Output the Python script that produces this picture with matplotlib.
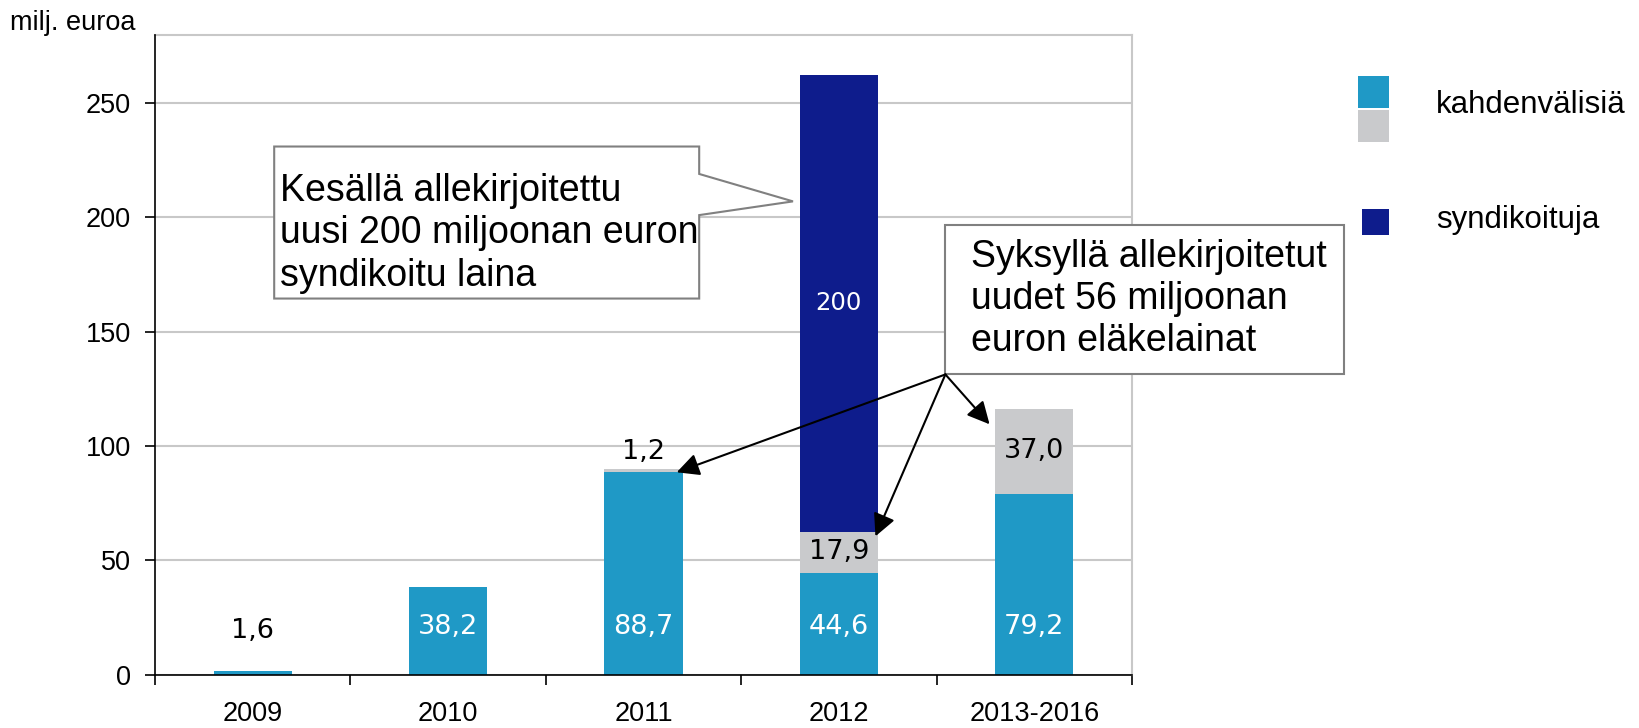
import matplotlib
matplotlib.use("Agg")
import matplotlib.pyplot as plt
from matplotlib.patches import Polygon, Rectangle
import numpy as np

plt.rcParams['font.family'] = ['Liberation Sans', 'DejaVu Sans']

# data (milj. euroa)
categories = ['2009', '2010', '2011', '2012', '2013-2016']
bilateral = [1.6, 38.2, 88.7, 44.6, 79.2]      # kahdenvälisiä
pension = [0.0, 0.0, 1.2, 17.9, 37.0]          # kahdenvälisiä, eläkelainat (harmaa)
syndicated = [0.0, 0.0, 0.0, 200.0, 0.0]       # syndikoituja
yticks = [0, 50, 100, 150, 200, 250]

c_blue = '#1f99c6'
c_grey = '#c9cacc'
c_navy = '#0e1c8c'
c_grid = '#c8c8c8'

def fmt(v):
    return str(int(v)) if v >= 100 else f'{v:.1f}'.replace('.', ',')

fig = plt.figure(figsize=(16.4, 7.28), dpi=100)
ax = fig.add_axes([155/1640, 1-674.6/728, (1132-155)/1640, (674.6-34.5)/728])

x = np.arange(len(categories))
w = 0.4
b1 = np.array(bilateral)
b2 = np.array(pension)
b3 = np.array(syndicated)
ax.bar(x, b1, w, color=c_blue, lw=0, zorder=3)
ax.bar(x, b2, w, bottom=b1, color=c_grey, lw=0, zorder=3)
ax.bar(x, b3, w, bottom=b1 + b2, color=c_navy, lw=0, zorder=3)

# value labels
lab_font = dict(family='DejaVu Sans', fontsize=19.5)
for i, v in enumerate(bilateral):
    if v < 10:
        ax.text(x[i], 19, fmt(v), ha='center', va='center', color='black', **lab_font)
    else:
        ax.text(x[i], 21, fmt(v), ha='center', va='center', color='white', **lab_font)
for i, v in enumerate(pension):
    if v == 0:
        continue
    if v < 5:
        ax.text(x[i], b1[i] + v + 7.5, fmt(v), ha='center', va='center', color='black', **lab_font)
    else:
        ax.text(x[i], b1[i] + v / 2, fmt(v), ha='center', va='center', color='black', **lab_font)
for i, v in enumerate(syndicated):
    if v > 0:
        ax.text(x[i], b1[i] + b2[i] + v / 2, fmt(v), ha='center', va='center',
                color='white', family='DejaVu Sans', fontsize=17.5)

ax.set_xlim(-0.5, len(categories) - 0.5)
ax.set_ylim(0, 280)
ax.set_yticks(yticks)
ax.set_yticklabels([str(t) for t in yticks], fontsize=19.5)
ax.set_xticks(x)
ax.set_xticklabels(categories, fontsize=19.5)
ax.set_xticks(np.arange(-0.5, len(categories)), minor=True)
ax.tick_params(axis='x', which='major', length=0, pad=19)
ax.tick_params(axis='x', which='minor', length=7, width=1.2, direction='out')
ax.tick_params(axis='y', length=7.2, width=1.2, pad=10, direction='out')
ax.grid(axis='y', color=c_grid, lw=1.5, zorder=0)
ax.set_axisbelow(True)
for s in ['left', 'bottom']:
    ax.spines[s].set_color('black')
    ax.spines[s].set_linewidth(1.2)
    ax.spines[s].set_zorder(4)
for s in ['top', 'right']:
    ax.spines[s].set_color(c_grid)
    ax.spines[s].set_linewidth(1.5)

# callout 1 (syndikoitu laina)
call1 = [(0.11, 231), (2.285, 231), (2.285, 219), (2.765, 207), (2.285, 201),
         (2.285, 164.5), (0.11, 164.5)]
ax.add_patch(Polygon(call1, closed=True, fc='white', ec='#808080', lw=1.5,
                     clip_on=False, zorder=6))
ax.text(0.14, 193, 'Kesällä allekirjoitettu\nuusi 200 miljoonan euron\nsyndikoitu laina',
        ha='left', va='center', fontsize=27, linespacing=1.22, zorder=7)

# callout 2 (eläkelainat)
x0, y0 = 3.545, 131.3
ax.add_patch(Rectangle((x0, y0), 2.04, 65.2, fc='white', ec='#808080', lw=1.5,
                       clip_on=False, zorder=6))
ax.text(3.676, 164.4, 'Syksyllä allekirjoitetut\nuudet 56 miljoonan\neuron eläkelainat',
        ha='left', va='center', fontsize=27, linespacing=1.22, zorder=7)
for tip in [(2.17, 88.5), (3.187, 60.5), (3.771, 109.5)]:
    ax.annotate('', xy=tip, xytext=(x0, y0),
                arrowprops=dict(arrowstyle='-|>', color='black', lw=1.5,
                                mutation_scale=34, shrinkA=0, shrinkB=0),
                zorder=8, annotation_clip=False)

# legend drawn by hand
def fig_rect(px0, py0, px1, py1, color):
    fig.patches.append(Rectangle((px0/1640, 1-py1/728), (px1-px0)/1640, (py1-py0)/728,
                                 transform=fig.transFigure, fc=color, lw=0))

fig_rect(1358, 76, 1389, 108, c_blue)
fig_rect(1358, 110, 1389, 142, c_grey)
fig_rect(1362, 209, 1389, 235, c_navy)
fig.text(1436/1640, 1-105/728, 'kahdenvälisiä', ha='left', va='center', fontsize=22.5)
fig.text(1436/1640, 1-220/728, 'syndikoituja', ha='left', va='center', fontsize=22.5)

fig.text(10.5/1640, 1-23/728, 'milj. euroa', ha='left', va='center', fontsize=19.5)

fig.savefig('out.png', dpi=100)
